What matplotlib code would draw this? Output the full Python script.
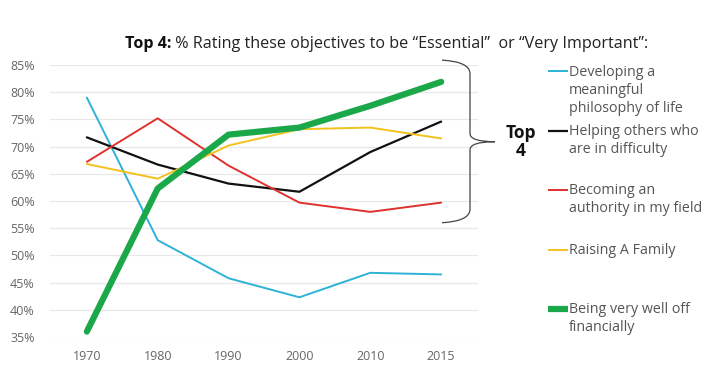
import numpy as np
import matplotlib.pyplot as plt
from matplotlib.path import Path
from matplotlib.patches import PathPatch
from matplotlib.lines import Line2D
import matplotlib.transforms as mtransforms

plt.rcParams['font.family'] = ['Open Sans', 'DejaVu Sans']

# --- data ---
years = ["1970", "1980", "1990", "2000", "2010", "2015"]
philosophy = [79.0, 52.8, 45.8, 42.3, 46.8, 46.5]
helping = [71.7, 66.7, 63.2, 61.7, 69.0, 74.6]
authority = [67.2, 75.2, 66.5, 59.7, 58.0, 59.7]
family = [66.8, 64.1, 70.2, 73.2, 73.5, 71.5]
well_off = [36.0, 62.3, 72.2, 73.5, 77.5, 81.9]

series = [
    ("Developing a\nmeaningful\nphilosophy of life", philosophy, "#2cb3d6", 1.4),
    ("Helping others who\nare in difficulty", helping, "#111111", 1.6),
    ("Becoming an\nauthority in my field", authority, "#e0312e", 1.4),
    ("Raising A Family", family, "#f2c31c", 1.4),
    ("Being very well off\nfinancially", well_off, "#1ba84b", 4.5),
]
yticks = [35, 40, 45, 50, 55, 60, 65, 70, 75, 80, 85]

fig = plt.figure(figsize=(7.2, 3.72), dpi=100)
ax = fig.add_axes([50 / 720, 35 / 372, 428 / 720, 272 / 372])

x = np.arange(len(years))
for label, vals, color, lw in series:
    ax.plot(x, vals, color=color, linewidth=lw, solid_capstyle='round',
            solid_joinstyle='round', clip_on=False, zorder=3)

ax.set_xlim(-0.52, 5.52)
ax.set_ylim(35, 85)
ax.set_yticks(yticks)
ax.set_yticklabels([f"{v}%" for v in yticks])
ax.set_xticks(x)
ax.set_xticklabels(years)
ax.tick_params(length=0, labelsize=9, labelcolor="#666666")
ax.tick_params(axis='y', pad=11)
ax.tick_params(axis='x', pad=9)
ax.grid(axis='y', color="#e8e8e8", linewidth=0.9)
ax.set_axisbelow(True)
for s in ax.spines.values():
    s.set_visible(False)

# --- brace ---
trans = mtransforms.blended_transform_factory(ax.transAxes, ax.transData)
xa = lambda px: (px - 50) / 428
top, mid, bot = 85.9, 70.9, 56.0
verts = [
    (xa(442), top), (xa(470), top - 0.3), (xa(470), top - 2.5),
    (xa(470), mid + 1.5),
    (xa(470), mid), (xa(495), mid),
    (xa(470), mid), (xa(470), mid - 1.5),
    (xa(470), bot + 2.5),
    (xa(470), bot + 0.3), (xa(442), bot),
]
codes = [Path.MOVETO, Path.CURVE3, Path.CURVE3,
         Path.LINETO,
         Path.CURVE3, Path.CURVE3,
         Path.CURVE3, Path.CURVE3,
         Path.LINETO,
         Path.CURVE3, Path.CURVE3]
ax.add_patch(PathPatch(Path(verts, codes), transform=trans, fill=False,
                       edgecolor="#444444", linewidth=0.9, clip_on=False))
fig.text(521 / 720, 1 - 142 / 372, "Top\n4", ha='center', va='center',
         fontsize=12.5, fontweight='bold', color="#111111", linespacing=1.05)

# --- legend ---
first_line_y = [71, 131, 190, 250, 309]
step = 19.5
for (label, vals, color, lw), y0 in zip(series, first_line_y):
    yf = 1 - y0 / 372
    fig.add_artist(Line2D([548 / 720, 568 / 720], [yf, yf], color=color,
                          linewidth=lw, transform=fig.transFigure,
                          solid_capstyle='butt'))
    nlines = label.count("\n") + 1
    yc = y0 + step * (nlines - 1) / 2
    fig.text(569 / 720, 1 - yc / 372, label, ha='left', va='center',
             fontsize=10.3, color="#555555", linespacing=1.3)

# --- title ---
t1 = fig.text(125 / 720, 1 - 48 / 372, "Top 4:", fontsize=11.6, fontweight='bold',
              color="#111111", va='baseline')
ax.annotate(" % Rating these objectives to be \u201cEssential\u201d  or \u201cVery Important\u201d:",
            xy=(1, 0), xycoords=t1, va='bottom', ha='left', fontsize=11.6,
            color="#222222")

fig.savefig("out.png", dpi=100, facecolor="white")
